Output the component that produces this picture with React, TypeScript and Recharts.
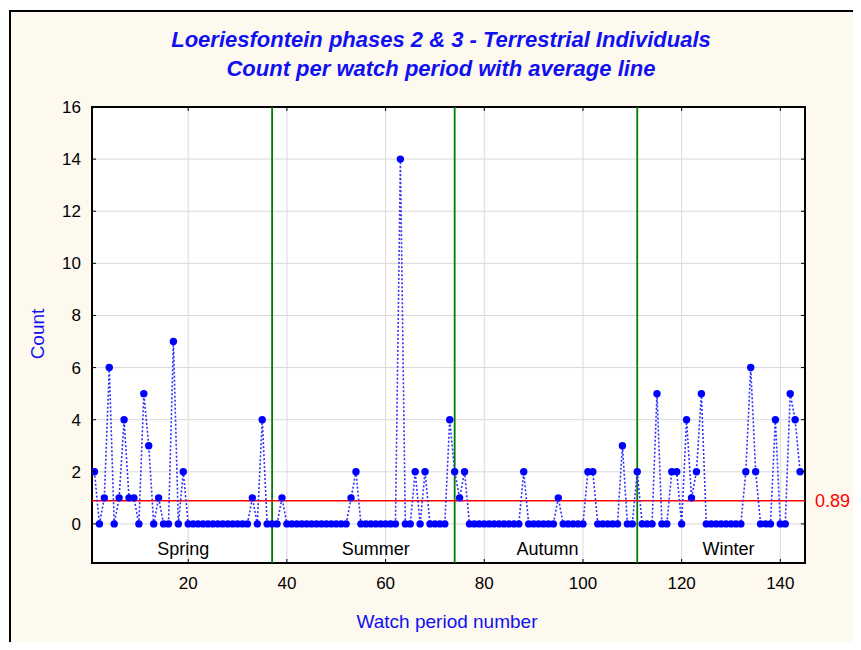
import React from "react";
import {
  LineChart,
  Line,
  XAxis,
  YAxis,
  CartesianGrid,
  ReferenceLine,
  ReferenceArea,
  ReferenceDot,
  Label,
} from "recharts";

// watch period counts (periods 1..144)
const counts = [
  2, 0, 1, 6, 0, 1, 4, 1, 1, 0, 5, 3, 0, 1, 0, 0, 7, 0, 2, 0,
  0, 0, 0, 0, 0, 0, 0, 0, 0, 0, 0, 0, 1, 0, 4, 0, 0, 0, 1, 0,
  0, 0, 0, 0, 0, 0, 0, 0, 0, 0, 0, 0, 1, 2, 0, 0, 0, 0, 0, 0,
  0, 0, 14, 0, 0, 2, 0, 2, 0, 0, 0, 0, 4, 2, 1, 2, 0, 0, 0, 0,
  0, 0, 0, 0, 0, 0, 0, 2, 0, 0, 0, 0, 0, 0, 1, 0, 0, 0, 0, 0,
  2, 2, 0, 0, 0, 0, 0, 3, 0, 0, 2, 0, 0, 0, 5, 0, 0, 2, 2, 0,
  4, 1, 2, 5, 0, 0, 0, 0, 0, 0, 0, 0, 2, 6, 2, 0, 0, 0, 4, 0,
  0, 5, 4, 2,
];
const xTicks = [20, 40, 60, 80, 100, 120, 140];
const yTicks = [0, 2, 4, 6, 8, 10, 12, 14, 16];
const seasonBreaks = [37, 74, 111];
const seasonNames = ["Spring", "Summer", "Autumn", "Winter"];
const seasonLabelAt = [19, 58, 92.8, 129.5];
const averageCount = 0.89;

const data = counts.map((count, i) => ({ period: i + 1, count }));

const PLOT_LEFT = 92;
const PLOT_RIGHT = 805;
const PLOT_TOP = 107;
const PLOT_BOTTOM = 563;
const FONT = "'Liberation Sans', Arial, sans-serif";
const BLUE = "#1010f0";

const XTick = (props: any) => {
  const { x, payload } = props;
  return (
    <g>
      <line x1={x} x2={x} y1={PLOT_BOTTOM} y2={PLOT_BOTTOM - 4} stroke="#000" />
      <line x1={x} x2={x} y1={PLOT_TOP} y2={PLOT_TOP + 4} stroke="#000" />
      <text x={x} y={PLOT_BOTTOM + 26} textAnchor="middle" fontSize={17} fill="#000" fontFamily={FONT}>
        {payload.value}
      </text>
    </g>
  );
};

const YTick = (props: any) => {
  const { y, payload } = props;
  return (
    <g>
      <line x1={PLOT_LEFT} x2={PLOT_LEFT + 4} y1={y} y2={y} stroke="#000" />
      <line x1={PLOT_RIGHT} x2={PLOT_RIGHT - 4} y1={y} y2={y} stroke="#000" />
      <text x={PLOT_LEFT - 11} y={y + 6} textAnchor="end" fontSize={17} fill="#000" fontFamily={FONT}>
        {payload.value}
      </text>
    </g>
  );
};

export default function App() {
  return (
    <div
      style={{
        position: "relative",
        width: 861,
        height: 650,
        margin: -8,
        overflow: "hidden",
        background: "#fff",
      }}
    >
      <div
        style={{
          position: "absolute",
          left: 9,
          top: 10,
          width: 900,
          height: 700,
          border: "2px solid #000",
          background: "#fef9ee",
        }}
      />
      <div
        style={{
          position: "absolute",
          left: 0,
          width: 882,
          top: 25,
          textAlign: "center",
          color: BLUE,
          fontFamily: "'Liberation Sans Narrow', 'Liberation Sans', Arial, sans-serif",
          fontWeight: "bold",
          fontStyle: "italic",
          fontSize: 22,
          lineHeight: "29px",
        }}
      >
        <div>Loeriesfontein phases 2 &amp; 3 - Terrestrial Individuals</div>
        <div>Count per watch period with average line</div>
      </div>
      <div style={{ position: "absolute", left: 0, top: 0 }}>
        <LineChart
          width={861}
          height={650}
          data={data}
          margin={{ top: 107, right: 56, bottom: 57, left: 0 }}
        >
          <CartesianGrid stroke="#d9d9d9" fill="#fff" />
          <XAxis
            dataKey="period"
            type="number"
            domain={[0.5, 145]}
            ticks={xTicks}
            allowDataOverflow
            height={30}
            axisLine={false}
            tickLine={false}
            tick={<XTick />}
            label={
              <Label
                content={() => (
                  <text x={447} y={628} textAnchor="middle" fontSize={19} fill={BLUE} fontFamily={FONT}>
                    Watch period number
                  </text>
                )}
              />
            }
          />
          <YAxis
            type="number"
            domain={[-1.5, 16]}
            ticks={yTicks}
            allowDataOverflow
            width={92}
            axisLine={false}
            tickLine={false}
            tick={<YTick />}
            label={
              <Label
                content={() => (
                  <text
                    x={44}
                    y={334}
                    transform="rotate(-90 44 334)"
                    textAnchor="middle"
                    fontSize={19}
                    fill={BLUE}
                    fontFamily={FONT}
                  >
                    Count
                  </text>
                )}
              />
            }
          />
          {seasonBreaks.map((b) => (
            <ReferenceLine key={b} x={b} stroke="#008000" strokeWidth={1.8} />
          ))}
          <ReferenceLine
            y={averageCount}
            stroke="#ff0000"
            strokeWidth={1.5}
            label={{
              value: averageCount.toFixed(2),
              position: "right",
              offset: 10,
              fill: "#ff0000",
              fontSize: 18,
              fontFamily: FONT,
            }}
          />
          {seasonNames.map((name, i) => (
            <ReferenceDot
              key={name}
              x={seasonLabelAt[i]}
              y={-0.95}
              r={0}
              fill="none"
              stroke="none"
              label={{ value: name, position: "center", fill: "#000", fontSize: 18, fontFamily: FONT }}
            />
          ))}
          <Line
            type="linear"
            dataKey="count"
            stroke="#3030ff"
            strokeWidth={1.6}
            strokeDasharray="2 2"
            dot={{ r: 3.7, fill: "#0000ff", stroke: "none" }}
            activeDot={false}
            isAnimationActive={false}
          />
          <ReferenceArea
            x1={0.5}
            x2={145}
            y1={-1.5}
            y2={16}
            fill="none"
            stroke="#000"
            strokeWidth={2}
            fillOpacity={0}
          />
        </LineChart>
      </div>
    </div>
  );
}
